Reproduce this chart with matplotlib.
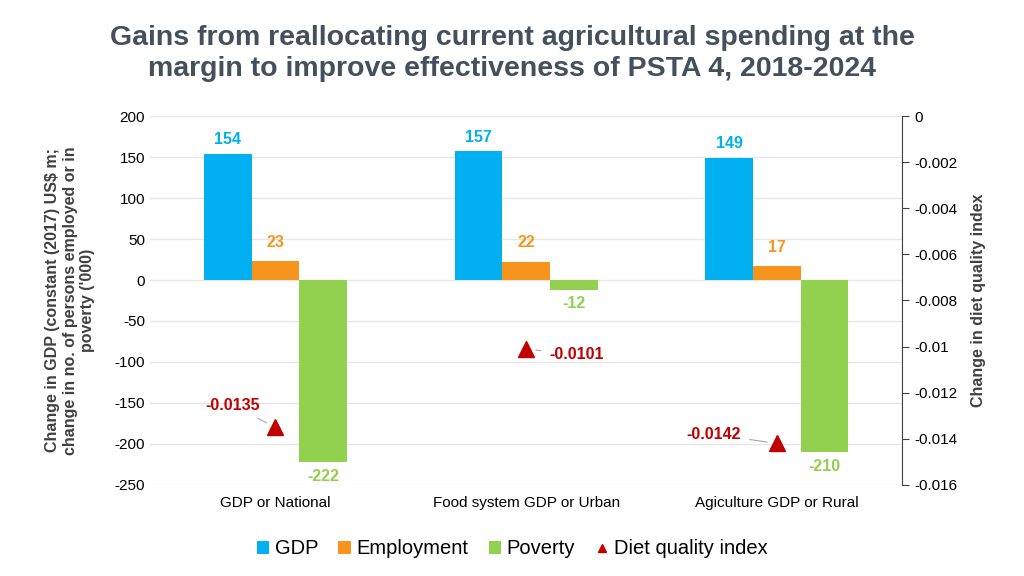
import numpy as np
import matplotlib.pyplot as plt

plt.rcParams['font.family'] = ['Liberation Sans', 'DejaVu Sans']
plt.rcParams['axes.unicode_minus'] = False

categories = ["GDP or National", "Food system GDP or Urban", "Agiculture GDP or Rural"]
gdp = [154, 157, 149]
employment = [23, 22, 17]
poverty = [-222, -12, -210]
diet = [-0.0135, -0.0101, -0.0142]
diet_labels = ["-0.0135", "-0.0101", "-0.0142"]

c_gdp = '#00B0F0'
c_emp = '#F7941D'
c_pov = '#92D050'
c_diet = '#C00000'

fig = plt.figure(figsize=(10.24, 5.76), dpi=100)
ax = fig.add_axes([0.1465, 0.158, 0.7345, 0.6406])
ax2 = ax.twinx()

x = np.arange(len(categories))
w = 0.19

ax.bar(x - w, gdp, w, color=c_gdp, label='GDP', zorder=2)
ax.bar(x, employment, w, color=c_emp, label='Employment', zorder=2)
ax.bar(x + w, poverty, w, color=c_pov, label='Poverty', zorder=2)

# data labels
for xi, v in zip(x - w, gdp):
    ax.text(xi, v + 8, str(v), ha='center', va='bottom', color=c_gdp, fontsize=11.5, fontweight='bold')
for xi, v in zip(x, employment):
    ax.text(xi, v + 14, str(v), ha='center', va='bottom', color=c_emp, fontsize=11.5, fontweight='bold')
for xi, v in zip(x + w, poverty):
    ax.text(xi, v - 8, str(v), ha='center', va='top', color=c_pov, fontsize=11.5, fontweight='bold')

ax.set_xlim(-0.5, 2.5)
ax.set_ylim(-250, 200)
ax.set_yticks(np.arange(-250, 201, 50))
ax.yaxis.grid(True, color='#E6E6E6', linewidth=1, zorder=0)
ax.set_axisbelow(True)
ax.set_xticks(x)
ax.set_xticklabels(categories, fontsize=11)
ax.tick_params(axis='both', length=0, labelsize=11, colors='#000000')
ax.tick_params(axis='x', pad=8)
for s in ['top', 'right', 'left', 'bottom']:
    ax.spines[s].set_visible(False)
ax.set_ylabel("Change in GDP (constant (2017) US$ m;\nchange in no. of persons employed or in\npoverty ('000)",
              fontsize=11.5, fontweight='bold', color='#404040', labelpad=14)

# diet quality index on secondary axis
ax2.plot(x, diet, linestyle='none', marker='^', markersize=12, color=c_diet, label='Diet quality index', zorder=3)
ax2.set_ylim(-0.016, 0)
ax2.set_yticks(np.arange(-0.016, 0.0001, 0.002))
ax2.set_yticklabels(['-0.016', '-0.014', '-0.012', '-0.01', '-0.008', '-0.006', '-0.004', '-0.002', '0'])
ax2.tick_params(axis='y', length=5, labelsize=11, color='#404040')
for s in ['top', 'left', 'bottom']:
    ax2.spines[s].set_visible(False)
ax2.spines['right'].set_color('#404040')
ax2.set_ylabel("Change in diet quality index", fontsize=11.5, fontweight='bold', color='#404040', labelpad=10)

offsets = [(-0.17, 0.00095), (0.2, -0.00026), (-0.25, 0.0004)]
for xi, v, lab, (dx, dy) in zip(x, diet, diet_labels, offsets):
    ax2.annotate(lab, xy=(xi, v), xytext=(xi + dx, v + dy), ha='center', va='center',
                 color=c_diet, fontsize=11.5, fontweight='bold',
                 arrowprops=dict(arrowstyle='-', color='#A6A6A6', lw=0.8, shrinkA=4, shrinkB=7))

h1, l1 = ax.get_legend_handles_labels()
h2, l2 = ax2.get_legend_handles_labels()
fig.legend(h1 + h2, l1 + l2, loc='center', bbox_to_anchor=(0.5, 0.047), ncol=4, frameon=False,
           fontsize=14.5, handlelength=0.6, handleheight=0.6, handletextpad=0.3, columnspacing=1.0,
           markerscale=0.5)

fig.text(0.5, 0.907, "Gains from reallocating current agricultural spending at the\nmargin to improve effectiveness of PSTA 4, 2018-2024",
         ha='center', va='center', fontsize=20.5, fontweight='bold', color='#44505C', linespacing=1.25)

fig.savefig('out.png', dpi=100)
